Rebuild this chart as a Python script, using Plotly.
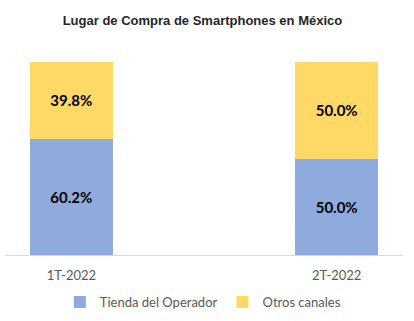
import plotly.graph_objects as go

categories = ["1T-2022", "2T-2022"]
tienda = [60.2, 50.0]
otros = [39.8, 50.0]
series_names = ["Tienda del Operador", "Otros canales"]

fig = go.Figure()
fig.add_trace(go.Bar(
    x=categories, y=tienda, name=series_names[0],
    marker=dict(color="#8FAADC", line=dict(width=0)),
    text=[f"{v:.1f}%" for v in tienda], textposition="inside",
    insidetextanchor="middle",
    textfont=dict(family="Lato", size=15, color="#000000", weight="bold"),
    width=0.313,
))
fig.add_trace(go.Bar(
    x=categories, y=otros, name=series_names[1],
    marker=dict(color="#FFD966", line=dict(width=0)),
    text=[f"{v:.1f}%" for v in otros], textposition="inside",
    insidetextanchor="middle",
    textfont=dict(family="Lato", size=15, color="#000000", weight="bold"),
    width=0.313,
))

fig.update_layout(
    width=414, height=321,
    barmode="stack",
    paper_bgcolor="white", plot_bgcolor="white",
    margin=dict(l=5, r=11, t=62, b=66, autoexpand=False),
    title=dict(text="Lugar de Compra de Smartphones en México",
               x=0.489, xanchor="center", xref="container",
               y=1 - 20 / 321, yanchor="middle", yref="container",
               font=dict(family="Liberation Sans", size=13, color="#262626", weight="bold")),
    xaxis=dict(range=[-0.25, 1.25], showline=True, linecolor="#D9D9D9", linewidth=1,
               ticks="outside", ticklen=8, tickcolor="rgba(0,0,0,0)",
               tickfont=dict(family="Lato", size=13, color="#595959"),
               showgrid=False),
    yaxis=dict(range=[0, 100], visible=False, showgrid=False),
    legend=dict(orientation="h", x=0.49, xanchor="center", xref="container",
                y=1 - 302 / 321, yanchor="middle", yref="container",
                font=dict(family="Lato", size=13, color="#595959"),
                itemwidth=30, traceorder="normal"),
    showlegend=True,
    uniformtext=dict(mode="show", minsize=8),
)

fig.write_html("out.html")
